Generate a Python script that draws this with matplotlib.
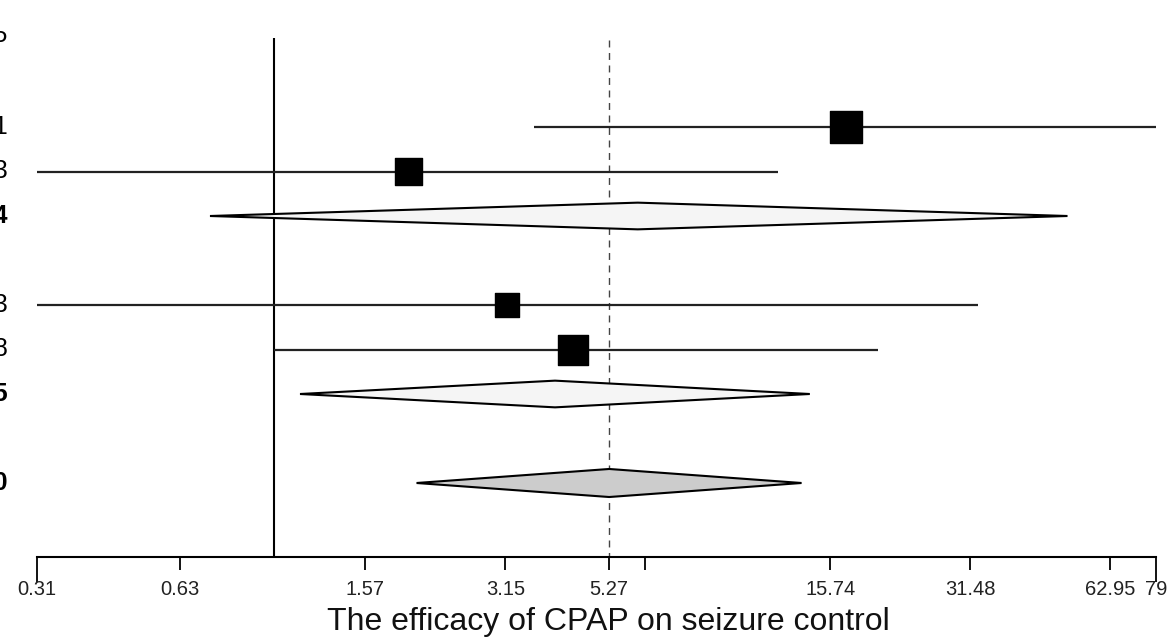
import numpy as np
import matplotlib
matplotlib.use("Agg")
import matplotlib.pyplot as plt
import matplotlib.transforms as mtransforms
from matplotlib.patches import Polygon
from matplotlib.ticker import FixedLocator, FixedFormatter

plt.rcParams['font.family'] = ['Liberation Sans', 'DejaVu Sans']

# 個別研究 (row index, OR, 95% CI, weight)
study_rows = [2, 3, 6, 7]
study_est = [17.0, 1.95, 3.17, 4.41]
study_lo = [3.63, 0.31, 0.31, 1.00]
study_hi = [79.0, 12.15, 32.7, 19.9]
study_weight = [32, 27, 24, 30]

# サブグループ
sub_rows = [4, 8]
sub_est = [6.07, 4.03]
sub_lo = [0.73, 1.14]
sub_hi = [50.97, 14.23]

# 全体
overall_row = 10
overall_est = 5.27
overall_lo = 2.03
overall_hi = 13.66

# 左の列 (画像の外にはみ出している)
label_rows = [0.1, 2, 3, 4, 6, 7, 8, 10]
label_text = ["P", "0.001", "0.393", "0.004", "0.243", "0.048", "0.015", "0.000"]
label_bold = [False, False, False, True, False, False, True, True]

# x軸の目盛り
inner_ticks = [0.63, 1.57, 3.15, 5.27, 6.30, 15.74, 31.48, 62.95]
inner_labels = ["0.63", "1.57", "3.15", "5.27", "", "15.74", "31.48", "62.95"]
end_ticks = [0.31, 79]
end_labels = ["0.31", "79"]
xlabel = "The efficacy of CPAP on seizure control"

# レイアウト (pixel)
W, H = 1168, 640
axis_y = 557
x0_px, x1_px = 37, 1156
row_px = 44.5
top_px = 38

b = (x1_px - x0_px) / np.log(end_ticks[1] / end_ticks[0])
xmin = end_ticks[0] * np.exp(-x0_px / b)
xmax = end_ticks[1] * np.exp((W - x1_px) / b)
y_bottom = (axis_y - top_px) / row_px
y_top = -top_px / row_px

fig = plt.figure(figsize=(W / 100, H / 100), dpi=100)
ax = fig.add_axes([0, (H - axis_y) / H, 1, axis_y / H])
ax.set_xscale("log")
ax.set_xlim(xmin, xmax)
ax.set_ylim(y_bottom, y_top)

for s in ["top", "right", "left"]:
    ax.spines[s].set_visible(False)
ax.spines["bottom"].set_bounds(end_ticks[0], end_ticks[1])
ax.spines["bottom"].set_linewidth(1.5)
ax.set_yticks([])

ax.xaxis.set_major_locator(FixedLocator(inner_ticks))
ax.xaxis.set_major_formatter(FixedFormatter(inner_labels))
ax.xaxis.set_minor_locator(FixedLocator(end_ticks))
ax.xaxis.set_minor_formatter(FixedFormatter(end_labels))
ax.tick_params(axis="x", which="major", length=9.5, width=1.3, pad=7,
               labelsize=14.5, colors="black", labelcolor="#222222")
ax.tick_params(axis="x", which="minor", length=18, width=1.3, pad=-1.5,
               labelsize=14.5, colors="black", labelcolor="#222222")
ax.set_xlabel(xlabel, fontsize=23, va="center", color="#111111")
ax.xaxis.set_label_coords(608 / W, (axis_y - 622) / axis_y)

# 基準線
ax.vlines(1, 0, y_bottom, color="black", lw=1.5, zorder=1)
ax.vlines(overall_est, 0.05, y_bottom, color="#444444", lw=1.0,
          linestyles=(0, (5, 4)), zorder=1)

# 研究ごとの CI と四角
ax.hlines(study_rows, study_lo, study_hi, color="#222222", lw=1.6, zorder=2)
ax.scatter(study_est, study_rows, marker="s",
           s=(np.array(study_weight) * 0.72) ** 2, color="black", zorder=3)


def diamond(est, lo, hi, row, h, fc):
    pts = [(lo, row), (est, row - h), (hi, row), (est, row + h)]
    ax.add_patch(Polygon(pts, closed=True, facecolor=fc, edgecolor="black",
                         lw=1.5, zorder=3))


for e, l, h, r in zip(sub_est, sub_lo, sub_hi, sub_rows):
    diamond(e, l, h, r, 0.30, "#f5f5f5")
diamond(overall_est, overall_lo, overall_hi, overall_row, 0.315, "#cccccc")

# 左のテキスト列
trans = mtransforms.blended_transform_factory(ax.transAxes, ax.transData)
for r, t, bold in zip(label_rows, label_text, label_bold):
    ax.text(8 / W, r, t, transform=trans, ha="right", va="center",
            fontsize=18, fontweight="bold" if bold else "normal",
            clip_on=False)

fig.savefig("out.png", dpi=100)
